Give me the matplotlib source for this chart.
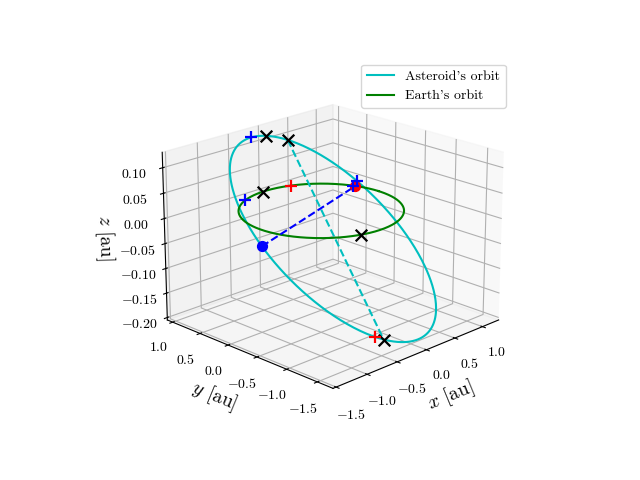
import matplotlib
matplotlib.use("Agg")
import matplotlib.pyplot as plt
import numpy as np

plt.rcParams['font.family'] = 'serif'
plt.rcParams['font.serif'] = ['cmr10']
plt.rcParams['mathtext.fontset'] = 'cm'
plt.rcParams['axes.formatter.use_mathtext'] = True

# asteroid orbital elements
a_ast = 1.28
e_ast = 0.27
inc_deg = 7.2
node_deg = 15.0
argp_deg = 57.0

# markers: true anomalies on the asteroid orbit (deg)
ast_black = [0, 20, 180]
ast_blue_plus = [35, -53]
ast_blue_dot = [124]
ast_red_plus = [176]
# markers: angles on the earth orbit (deg)
earth_black = [92, 253]
earth_red_plus = [68]
earth_blue_plus = [114, 22]
earth_red_dot = [20]

inc = np.radians(inc_deg)
node = np.radians(node_deg)
argp = np.radians(argp_deg)


def ast_pos(nu_deg):
    nu = np.radians(np.asarray(nu_deg, dtype=float))
    r = a_ast * (1 - e_ast**2) / (1 + e_ast * np.cos(nu))
    u = argp + nu
    x = r * (np.cos(node) * np.cos(u) - np.sin(node) * np.sin(u) * np.cos(inc))
    y = r * (np.sin(node) * np.cos(u) + np.cos(node) * np.sin(u) * np.cos(inc))
    z = r * np.sin(u) * np.sin(inc)
    return x, y, z


def earth_pos(th_deg):
    th = np.radians(np.asarray(th_deg, dtype=float))
    return np.cos(th), np.sin(th), 0 * th


fig = plt.figure(figsize=(6.4, 4.8))
ax = fig.add_subplot(projection='3d')

nu = np.linspace(0, 360, 400)
ax.plot(*ast_pos(nu), color='c', label="Asteroid's orbit")
ax.plot(*earth_pos(nu), color='g', label="Earth's orbit")

p = np.array(ast_pos([0, 180]))
ax.plot(p[0], p[1], p[2], 'c--')
b = np.array(ast_pos(ast_blue_dot))
r = np.array(earth_pos(earth_red_dot))
ax.plot([b[0, 0], r[0, 0]], [b[1, 0], r[1, 0]], [b[2, 0], r[2, 0]], 'b--')

kw = dict(s=70, depthshade=False, linewidths=1.6)
ax.scatter(*ast_pos(ast_black), marker='x', color='k', **kw)
ax.scatter(*earth_pos(earth_black), marker='x', color='k', **kw)
ax.scatter(*ast_pos(ast_blue_plus), marker='+', color='b', **kw)
ax.scatter(*earth_pos(earth_blue_plus), marker='+', color='b', **kw)
ax.scatter(*ast_pos(ast_red_plus), marker='+', color='r', **kw)
ax.scatter(*earth_pos(earth_red_plus), marker='+', color='r', **kw)
ax.scatter(*ast_pos(ast_blue_dot), marker='o', color='b', s=50, depthshade=False)
ax.scatter(*earth_pos(earth_red_dot), marker='o', color='r', s=50, depthshade=False)

ax.set_xlabel(r'$x$ [au]', fontsize=14)
ax.set_ylabel(r'$y$ [au]', fontsize=14)
ax.set_zlabel(r'$z$ [au]', fontsize=14)
ax.set_xlim(-1.55, 1.3)
ax.set_ylim(-1.75, 1.1)
ax.set_zlim(-0.205, 0.13)
ax.view_init(elev=20, azim=-135)
ax.legend()
fig.savefig('out.png', dpi=100)
